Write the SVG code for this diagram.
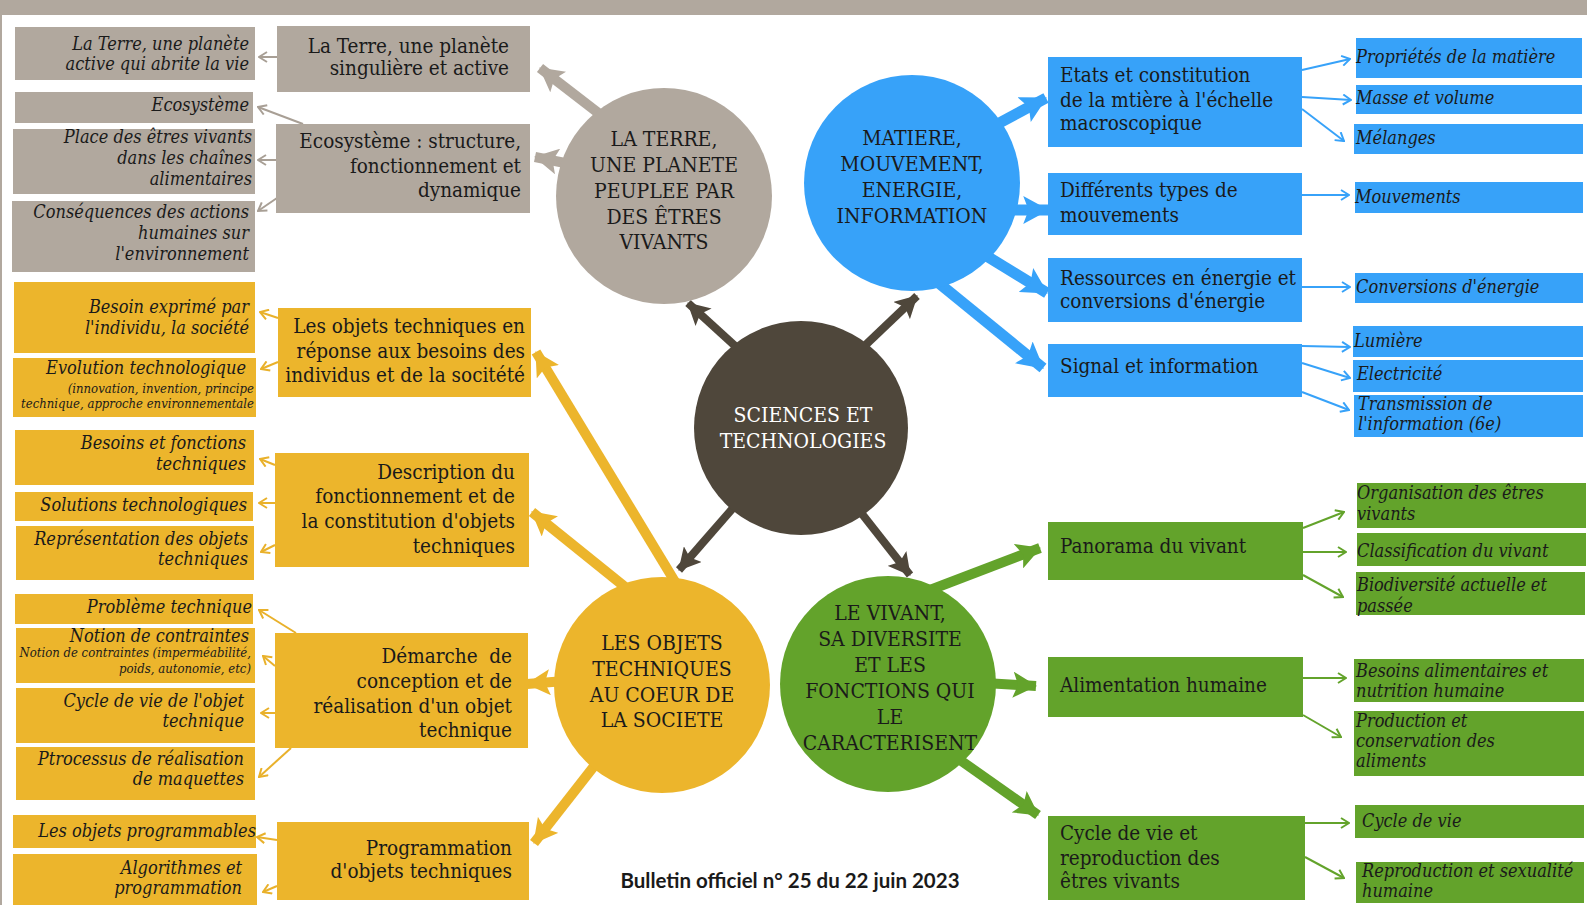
<svg xmlns="http://www.w3.org/2000/svg" width="1587" height="905" viewBox="0 0 1587 905">
<style>
text{font-family:'DejaVu Serif Condensed','DejaVu Serif',serif;font-stretch:condensed;fill:#1a1a1a}
.m{font-size:20.5px}
.l{font-size:18px;font-style:italic}
.s{font-size:13px;font-style:italic}
.e{text-anchor:end}
.c{font-size:21px;text-anchor:middle}
.w{fill:#ffffff}
.gr{fill:#B1A89E}
.ye{fill:#ECB52C}
.bl{fill:#37A2F9}
.gn{fill:#63A32B}
.tg{stroke:#A89F95;stroke-width:2;fill:none;marker-end:url(#cg)}
.ty{stroke:#E9B12B;stroke-width:2;fill:none;marker-end:url(#cy)}
.tb{stroke:#37A2F9;stroke-width:2;fill:none;marker-end:url(#cb)}
.tn{stroke:#63A32B;stroke-width:2;fill:none;marker-end:url(#cn)}
.Kg{stroke:#B1A89E;stroke-width:10;marker-end:url(#hg)}
.Kd{stroke:#4F473B;stroke-width:8;marker-end:url(#hd)}
.Kb{stroke:#37A2F9;stroke-width:11;marker-end:url(#hb)}
.Ky{stroke:#ECB52C;stroke-width:10;marker-end:url(#hy)}
.Kn{stroke:#63A32B;stroke-width:10;marker-end:url(#hn)}
</style>
<defs>
<marker id="cg" markerUnits="userSpaceOnUse" viewBox="0 0 10 12" markerWidth="10" markerHeight="12" refX="9" refY="6" orient="auto"><path d="M1,1 L9,6 L1,11" fill="none" stroke="#A89F95" stroke-width="2"/></marker>
<marker id="cy" markerUnits="userSpaceOnUse" viewBox="0 0 10 12" markerWidth="10" markerHeight="12" refX="9" refY="6" orient="auto"><path d="M1,1 L9,6 L1,11" fill="none" stroke="#E9B12B" stroke-width="2"/></marker>
<marker id="cb" markerUnits="userSpaceOnUse" viewBox="0 0 10 12" markerWidth="10" markerHeight="12" refX="9" refY="6" orient="auto"><path d="M1,1 L9,6 L1,11" fill="none" stroke="#37A2F9" stroke-width="2"/></marker>
<marker id="cn" markerUnits="userSpaceOnUse" viewBox="0 0 10 12" markerWidth="10" markerHeight="12" refX="9" refY="6" orient="auto"><path d="M1,1 L9,6 L1,11" fill="none" stroke="#63A32B" stroke-width="2"/></marker>
<marker id="hg" markerUnits="userSpaceOnUse" viewBox="0 0 24 26" markerWidth="24" markerHeight="26" refX="23" refY="13" orient="auto"><path d="M0,0 L24,13 L0,26 L5,13 z" fill="#B1A89E"/></marker>
<marker id="hd" markerUnits="userSpaceOnUse" viewBox="0 0 24 26" markerWidth="22" markerHeight="24" refX="23" refY="13" orient="auto"><path d="M0,0 L24,13 L0,26 L5,13 z" fill="#4F473B"/></marker>
<marker id="hb" markerUnits="userSpaceOnUse" viewBox="0 0 24 26" markerWidth="26" markerHeight="28" refX="23" refY="13" orient="auto"><path d="M0,0 L24,13 L0,26 L5,13 z" fill="#37A2F9"/></marker>
<marker id="hy" markerUnits="userSpaceOnUse" viewBox="0 0 24 26" markerWidth="24" markerHeight="26" refX="23" refY="13" orient="auto"><path d="M0,0 L24,13 L0,26 L5,13 z" fill="#ECB52C"/></marker>
<marker id="hn" markerUnits="userSpaceOnUse" viewBox="0 0 24 26" markerWidth="24" markerHeight="26" refX="23" refY="13" orient="auto"><path d="M0,0 L24,13 L0,26 L5,13 z" fill="#63A32B"/></marker>
</defs>
<rect width="1587" height="905" fill="#ffffff"/>
<rect x="0" y="0" width="1587" height="15" fill="#B1A89E"/>
<rect x="0" y="0" width="2" height="905" fill="#B1A89E"/>

<g id="connectors">
<line class="Kg" x1="610" y1="122" x2="540" y2="68"/>
<line class="Kg" x1="580" y1="166" x2="535" y2="157"/>
<line class="Kd" x1="745" y1="355" x2="688" y2="303"/>
<line class="Kd" x1="855" y1="355" x2="917" y2="296"/>
<line class="Kd" x1="740" y1="500" x2="679" y2="570"/>
<line class="Kd" x1="855" y1="505" x2="910" y2="575"/>
<line class="Kb" x1="990" y1="128" x2="1046" y2="98"/>
<line class="Kb" x1="1010" y1="210" x2="1048" y2="210"/>
<line class="Kb" x1="985" y1="255" x2="1047" y2="293"/>
<line class="Kb" x1="935" y1="280" x2="1043" y2="368"/>
<line class="Ky" x1="680" y1="590" x2="536" y2="352"/>
<line class="Ky" x1="635" y1="595" x2="532" y2="512"/>
<line class="Ky" x1="565" y1="681" x2="527" y2="684"/>
<line class="Ky" x1="595" y1="765" x2="534" y2="843"/>
<line class="Kn" x1="930" y1="590" x2="1040" y2="548"/>
<line class="Kn" x1="985" y1="683" x2="1036" y2="686"/>
<line class="Kn" x1="960" y1="760" x2="1038" y2="815"/>

<line class="tg" x1="277" y1="57" x2="259" y2="57"/>
<line class="tg" x1="303" y1="124" x2="258" y2="107"/>
<line class="tg" x1="277" y1="160" x2="258" y2="160"/>
<line class="tg" x1="277" y1="198" x2="258" y2="211"/>
<line class="ty" x1="278" y1="318" x2="260" y2="312"/>
<line class="ty" x1="278" y1="362" x2="261" y2="369"/>
<line class="ty" x1="275" y1="465" x2="260" y2="459"/>
<line class="ty" x1="275" y1="503" x2="259" y2="503"/>
<line class="ty" x1="275" y1="545" x2="261" y2="552"/>
<line class="ty" x1="296" y1="633" x2="259" y2="610"/>
<line class="ty" x1="275" y1="666" x2="263" y2="656"/>
<line class="ty" x1="275" y1="713" x2="261" y2="713"/>
<line class="ty" x1="291" y1="748" x2="259" y2="777"/>
<line class="ty" x1="277" y1="840" x2="257" y2="837"/>
<line class="ty" x1="277" y1="886" x2="263" y2="892"/>
<line class="tb" x1="1302" y1="70" x2="1350" y2="59"/>
<line class="tb" x1="1302" y1="97" x2="1351" y2="100"/>
<line class="tb" x1="1302" y1="109" x2="1344" y2="141"/>
<line class="tb" x1="1302" y1="195" x2="1349" y2="195"/>
<line class="tb" x1="1302" y1="287" x2="1350" y2="287"/>
<line class="tb" x1="1302" y1="346" x2="1350" y2="347"/>
<line class="tb" x1="1302" y1="363" x2="1350" y2="378"/>
<line class="tb" x1="1302" y1="392" x2="1349" y2="410"/>
<line class="tn" x1="1303" y1="528" x2="1344" y2="512"/>
<line class="tn" x1="1303" y1="552" x2="1346" y2="552"/>
<line class="tn" x1="1303" y1="575" x2="1343" y2="597"/>
<line class="tn" x1="1303" y1="678" x2="1346" y2="678"/>
<line class="tn" x1="1303" y1="715" x2="1341" y2="737"/>
<line class="tn" x1="1305" y1="823" x2="1349" y2="823"/>
<line class="tn" x1="1305" y1="857" x2="1344" y2="878"/>
</g>

<g id="c_terre"><circle cx="664" cy="196" r="108" class="gr"/>
<text class="c" x="664" y="146">LA TERRE,</text><text class="c" x="664" y="172">UNE PLANETE</text><text class="c" x="664" y="198">PEUPLEE PAR</text><text class="c" x="664" y="224">DES ÊTRES</text><text class="c" x="664" y="249">VIVANTS</text></g>
<g id="c_matiere"><circle cx="912" cy="183" r="108" class="bl"/>
<text class="c" x="912" y="145">MATIERE,</text><text class="c" x="912" y="171">MOUVEMENT,</text><text class="c" x="912" y="197">ENERGIE,</text><text class="c" x="912" y="223">INFORMATION</text></g>
<g id="c_sciences"><circle cx="801" cy="428" r="107" fill="#4F473B"/>
<text class="c w" x="803" y="422">SCIENCES ET</text><text class="c w" x="803" y="448">TECHNOLOGIES</text></g>
<g id="c_objets"><circle cx="662" cy="685" r="108" class="ye"/>
<text class="c" x="662" y="650">LES OBJETS</text><text class="c" x="662" y="676">TECHNIQUES</text><text class="c" x="662" y="702">AU COEUR DE</text><text class="c" x="662" y="727">LA SOCIETE</text></g>
<g id="c_vivant"><circle cx="888" cy="684" r="108" class="gn"/>
<text class="c" x="890" y="620">LE VIVANT,</text><text class="c" x="890" y="646">SA DIVERSITE</text><text class="c" x="890" y="672">ET LES</text><text class="c" x="890" y="698">FONCTIONS QUI</text><text class="c" x="890" y="724">LE</text><text class="c" x="890" y="750">CARACTERISENT</text></g>

<g id="g_mid1"><rect x="277" y="26" width="253" height="66" class="gr"/><text class="m e" x="509" y="53">La Terre, une planète</text><text class="m e" x="509" y="75">singulière et active</text></g>
<g id="g_mid2"><rect x="276" y="124" width="254" height="89" class="gr"/><text class="m e" x="521" y="148">Ecosystème : structure,</text><text class="m e" x="521" y="173">fonctionnement et</text><text class="m e" x="521" y="197">dynamique</text></g>
<g id="g_leaf1"><rect x="15" y="27" width="240" height="53" class="gr"/><text class="l e" x="249" y="50">La Terre, une planète</text><text class="l e" x="249" y="70">active qui abrite la vie</text></g>
<g id="g_leaf2"><rect x="15" y="92" width="238" height="31" class="gr"/><text class="l e" x="249" y="111">Ecosystème</text></g>
<g id="g_leaf3"><rect x="13" y="129" width="242" height="65" class="gr"/><text class="l e" x="252" y="143">Place des êtres vivants</text><text class="l e" x="252" y="164">dans les chaînes</text><text class="l e" x="252" y="185">alimentaires</text></g>
<g id="g_leaf4"><rect x="12" y="201" width="243" height="71" class="gr"/><text class="l e" x="249" y="218">Conséquences des actions</text><text class="l e" x="249" y="239">humaines sur</text><text class="l e" x="249" y="260">l'environnement</text></g>

<g id="y_mid1"><rect x="278" y="308" width="253" height="89" class="ye"/><text class="m e" x="525" y="333">Les objets techniques en</text><text class="m e" x="525" y="358">réponse aux besoins des</text><text class="m e" x="525" y="382">individus et de la socitété</text></g>
<g id="y_leaf1"><rect x="14" y="282" width="241" height="71" class="ye"/><text class="l e" x="249" y="313">Besoin exprimé par</text><text class="l e" x="249" y="334">l'individu, la société</text></g>
<g id="y_leaf2"><rect x="13" y="358" width="243" height="59" class="ye"/><text class="l e" x="246" y="374">Evolution technologique</text><text class="s e" x="254" y="393">(innovation, invention, principe</text><text class="s e" x="254" y="408">technique, approche environnementale</text></g>
<g id="y_mid2"><rect x="275" y="453" width="254" height="114" class="ye"/><text class="m e" x="515" y="479">Description du</text><text class="m e" x="515" y="503">fonctionnement et de</text><text class="m e" x="515" y="528">la constitution d'objets</text><text class="m e" x="515" y="553">techniques</text></g>
<g id="y_leaf3"><rect x="15" y="430" width="239" height="55" class="ye"/><text class="l e" x="246" y="449">Besoins et fonctions</text><text class="l e" x="246" y="470">techniques</text></g>
<g id="y_leaf4"><rect x="15" y="492" width="238" height="29" class="ye"/><text class="l e" x="247" y="511">Solutions technologiques</text></g>
<g id="y_leaf5"><rect x="16" y="526" width="238" height="54" class="ye"/><text class="l e" x="248" y="545">Représentation des objets</text><text class="l e" x="248" y="565">techniques</text></g>
<g id="y_mid3"><rect x="275" y="633" width="253" height="115" class="ye"/><text class="m e" x="512" y="663" xml:space="preserve">Démarche  de</text><text class="m e" x="512" y="688">conception et de</text><text class="m e" x="512" y="713">réalisation d'un objet</text><text class="m e" x="512" y="737">technique</text></g>
<g id="y_leaf6"><rect x="15" y="594" width="238" height="30" class="ye"/><text class="l e" x="252" y="613">Problème technique</text></g>
<g id="y_leaf7"><rect x="16" y="628" width="239" height="55" class="ye"/><text class="l e" x="249" y="642">Notion de contraintes</text><text class="s e" x="251" y="657">Notion de contraintes (imperméabilité,</text><text class="s e" x="251" y="673">poids, autonomie, etc)</text></g>
<g id="y_leaf8"><rect x="16" y="688" width="239" height="55" class="ye"/><text class="l e" x="244" y="707">Cycle de vie de l'objet</text><text class="l e" x="244" y="727">technique</text></g>
<g id="y_leaf9"><rect x="16" y="747" width="239" height="53" class="ye"/><text class="l e" x="244" y="765">Ptrocessus de réalisation</text><text class="l e" x="244" y="785">de maquettes</text></g>
<g id="y_mid4"><rect x="277" y="822" width="252" height="78" class="ye"/><text class="m e" x="512" y="855">Programmation</text><text class="m e" x="512" y="878">d'objets techniques</text></g>
<g id="y_leaf10"><rect x="13" y="815" width="243" height="33" class="ye"/><text class="l e" x="256" y="837">Les objets programmables</text></g>
<g id="y_leaf11"><rect x="13" y="854" width="244" height="51" class="ye"/><text class="l e" x="242" y="874">Algorithmes et</text><text class="l e" x="242" y="894">programmation</text></g>

<g id="b_mid1"><rect x="1048" y="57" width="254" height="90" class="bl"/><text class="m" x="1060" y="82">Etats et constitution</text><text class="m" x="1060" y="107">de la mtière à l'échelle</text><text class="m" x="1060" y="130">macroscopique</text></g>
<g id="b_leaf1"><rect x="1356" y="38" width="226" height="40" class="bl"/><text class="l" x="1356" y="63">Propriétés de la matière</text></g>
<g id="b_leaf2"><rect x="1356" y="85" width="226" height="29" class="bl"/><text class="l" x="1356" y="104">Masse et volume</text></g>
<g id="b_leaf3"><rect x="1354" y="124" width="229" height="30" class="bl"/><text class="l" x="1356" y="144">Mélanges</text></g>
<g id="b_mid2"><rect x="1048" y="173" width="254" height="62" class="bl"/><text class="m" x="1060" y="197">Différents types de</text><text class="m" x="1060" y="222">mouvements</text></g>
<g id="b_leaf4"><rect x="1355" y="182" width="228" height="31" class="bl"/><text class="l" x="1355" y="203">Mouvements</text></g>
<g id="b_mid3"><rect x="1048" y="258" width="254" height="64" class="bl"/><text class="m" x="1060" y="285">Ressources en énergie et</text><text class="m" x="1060" y="308">conversions d'énergie</text></g>
<g id="b_leaf5"><rect x="1355" y="273" width="228" height="30" class="bl"/><text class="l" x="1356" y="293">Conversions d'énergie</text></g>
<g id="b_mid4"><rect x="1048" y="344" width="254" height="53" class="bl"/><text class="m" x="1060" y="373">Signal et information</text></g>
<g id="b_leaf6"><rect x="1353" y="326" width="230" height="31" class="bl"/><text class="l" x="1354" y="347">Lumière</text></g>
<g id="b_leaf7"><rect x="1353" y="360" width="230" height="32" class="bl"/><text class="l" x="1357" y="380">Electricité</text></g>
<g id="b_leaf8"><rect x="1354" y="395" width="229" height="42" class="bl"/><text class="l" x="1358" y="410">Transmission de</text><text class="l" x="1358" y="430">l'information (6e)</text></g>

<g id="n_mid1"><rect x="1048" y="522" width="255" height="58" class="gn"/><text class="m" x="1060" y="553">Panorama du vivant</text></g>
<g id="n_leaf1"><rect x="1357" y="483" width="229" height="45" class="gn"/><text class="l" x="1357" y="499">Organisation des êtres</text><text class="l" x="1357" y="520">vivants</text></g>
<g id="n_leaf2"><rect x="1357" y="533" width="229" height="33" class="gn"/><text class="l" x="1357" y="557">Classification du vivant</text></g>
<g id="n_leaf3"><rect x="1356" y="572" width="229" height="43" class="gn"/><text class="l" x="1357" y="591">Biodiversité actuelle et</text><text class="l" x="1357" y="612">passée</text></g>
<g id="n_mid2"><rect x="1048" y="657" width="255" height="60" class="gn"/><text class="m" x="1060" y="692">Alimentation humaine</text></g>
<g id="n_leaf4"><rect x="1354" y="659" width="230" height="43" class="gn"/><text class="l" x="1356" y="677">Besoins alimentaires et</text><text class="l" x="1356" y="697">nutrition humaine</text></g>
<g id="n_leaf5"><rect x="1354" y="711" width="230" height="65" class="gn"/><text class="l" x="1356" y="727">Production et</text><text class="l" x="1356" y="747">conservation des</text><text class="l" x="1356" y="767">aliments</text></g>
<g id="n_mid3"><rect x="1048" y="816" width="257" height="84" class="gn"/><text class="m" x="1060" y="840">Cycle de vie et</text><text class="m" x="1060" y="865">reproduction des</text><text class="m" x="1060" y="888">êtres vivants</text></g>
<g id="n_leaf6"><rect x="1355" y="805" width="229" height="33" class="gn"/><text class="l" x="1362" y="827">Cycle de vie</text></g>
<g id="n_leaf7"><rect x="1356" y="862" width="228" height="41" class="gn"/><text class="l" x="1362" y="877">Reproduction et sexualité</text><text class="l" x="1362" y="897">humaine</text></g>

<text x="790" y="888" text-anchor="middle" style="font-family:Lato,'Open Sans',sans-serif;font-weight:bold;font-size:20.5px;font-stretch:normal;fill:#1a1a1a">Bulletin officiel n° 25 du 22 juin 2023</text>
</svg>
